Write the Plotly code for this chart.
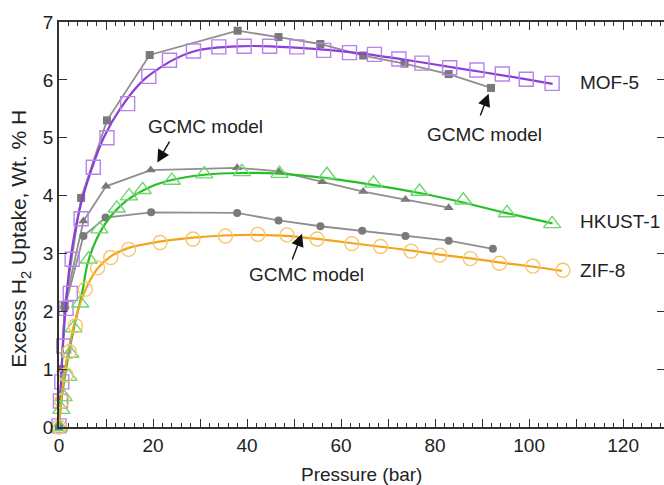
import plotly.graph_objects as go

# ---------------- data ----------------
mof5_x = [0, 0.3, 0.6, 1.0, 1.5, 2.4, 2.8, 4.7, 7.3, 10.2, 14.6, 19.1, 23.5, 28.6, 34.0, 39.4, 44.8,
          50.6, 56.3, 61.8, 67.1, 72.3, 77.2, 83.1, 88.9, 94.3, 99.4, 104.9]
mof5_y = [0.02, 0.45, 0.78, 1.4, 2.05, 2.31, 2.9, 3.6, 4.49, 5.0, 5.59, 6.06, 6.34, 6.5, 6.57, 6.58, 6.58,
          6.57, 6.51, 6.47, 6.44, 6.36, 6.29, 6.21, 6.17, 6.1, 6.01, 5.94]
mof5_fit_x = [0, 0.5, 1, 2, 3, 4.5, 6.7, 9.5, 13, 18, 24.4, 30, 38, 45, 55, 65, 75, 85, 95, 105]
mof5_fit_y = [0, 0.9, 1.6, 2.6, 3.2, 3.8, 4.4, 5.0, 5.5, 6.0, 6.35, 6.52, 6.58, 6.58, 6.53, 6.45, 6.33,
              6.2, 6.07, 5.93]

hkust_x = [0, 0.5, 1.0, 2.0, 2.4, 3.1, 4.5, 6.3, 8.6, 12.3, 14.9, 17.8, 24, 30.9, 38.9, 46.9, 57,
           66.9, 76.7, 86, 95.3, 104.9]
hkust_y = [0, 0.3, 0.52, 0.87, 1.27, 1.71, 2.14, 2.9, 3.42, 3.78, 3.99, 4.1, 4.26, 4.37, 4.41, 4.38,
           4.36, 4.21, 4.07, 3.92, 3.7, 3.51]
hkust_fit_x = [0, 0.5, 1.5, 3, 5, 6, 8, 10.6, 14.5, 19.4, 24, 31, 39, 47, 57, 67, 77, 86, 95, 105]
hkust_fit_y = [0, 0.45, 1.0, 1.65, 2.35, 2.8, 3.25, 3.6, 3.92, 4.15, 4.27, 4.36, 4.39, 4.38, 4.3,
               4.18, 4.04, 3.88, 3.7, 3.52]

zif8_x = [0, 0.6, 1.5, 2.2, 3.5, 5.6, 8.2, 11.0, 14.8, 21.5, 28.5, 35.4, 42.3, 48.5, 54.9, 62.3,
          68.4, 74.9, 81.0, 87.5, 93.7, 100.8, 107.2]
zif8_y = [0, 0.45, 0.9, 1.3, 1.75, 2.38, 2.75, 2.93, 3.07, 3.19, 3.25, 3.3, 3.33, 3.32, 3.25, 3.17,
          3.12, 3.04, 2.97, 2.91, 2.83, 2.78, 2.71]
zif8_fit_x = [0, 0.5, 1.5, 3, 5, 8, 11, 15, 21, 28, 35, 42, 49, 55, 62, 68, 75, 81, 88, 94, 101, 107]
zif8_fit_y = [0, 0.5, 1.1, 1.7, 2.25, 2.72, 2.95, 3.1, 3.2, 3.27, 3.31, 3.32, 3.3, 3.25, 3.18, 3.12,
              3.05, 2.98, 2.91, 2.84, 2.77, 2.7]

gcmc_mof5_x = [0, 0.5, 1.2, 4.7, 10.2, 19.3, 38.0, 46.7, 55.6, 64.7, 73.5, 82.9, 91.9]
gcmc_mof5_y = [0, 1.0, 2.1, 3.96, 5.3, 6.43, 6.85, 6.74, 6.62, 6.42, 6.28, 6.1, 5.86]
gcmc_hkust_x = [0, 0.5, 1.2, 5.2, 10.0, 19.5, 37.9, 46.7, 56.0, 64.7, 73.7, 82.9]
gcmc_hkust_y = [0, 1.0, 2.1, 3.56, 4.16, 4.44, 4.48, 4.42, 4.24, 4.07, 3.93, 3.79]
gcmc_zif8_x = [0, 0.5, 1.2, 5.2, 9.9, 19.6, 37.9, 46.7, 55.6, 64.5, 73.7, 82.9, 92.3]
gcmc_zif8_y = [0, 1.0, 2.05, 3.3, 3.62, 3.71, 3.7, 3.57, 3.47, 3.39, 3.3, 3.22, 3.08]

series_labels = ["MOF-5", "HKUST-1", "ZIF-8"]
label_x = [110.5, 110.5, 110.5]
label_y = [5.95, 3.55, 2.71]

x_ticks = [0, 10, 20, 30, 40, 50, 60, 70, 80, 90, 100, 110, 120]
x_ticktext = ["0", "", "20", "", "40", "", "60", "", "80", "", "100", "", "120"]
y_ticks = [0, 1, 2, 3, 4, 5, 6, 7]

# ---------------- styles ----------------
FONT = "Liberation Sans, Arial, sans-serif"
TXT = "#222222"
PURPLE, PURPLE_M = "#8B3DD8", "#B783EA"
GREEN, GREEN_M = "#25C025", "#6FD66F"
ORANGE, ORANGE_M = "#F4A41C", "#F5C76A"
GRAY_L, GRAY_M = "#8F8F8F", "#7A7A7A"

fig = go.Figure()

# GCMC model curves
for xs, ys, sym, sz in [(gcmc_mof5_x, gcmc_mof5_y, "square", 8),
                        (gcmc_hkust_x, gcmc_hkust_y, "triangle-up", 9),
                        (gcmc_zif8_x, gcmc_zif8_y, "circle", 8)]:
    fig.add_trace(go.Scatter(x=xs, y=ys, mode="lines+markers",
                             line=dict(color=GRAY_L, width=1.8),
                             marker=dict(symbol=sym, size=sz, color=GRAY_M),
                             showlegend=False, cliponaxis=False))

# experimental fit lines
for xs, ys, c in [(mof5_fit_x, mof5_fit_y, PURPLE),
                  (hkust_fit_x, hkust_fit_y, GREEN),
                  (zif8_fit_x, zif8_fit_y, ORANGE)]:
    fig.add_trace(go.Scatter(x=xs, y=ys, mode="lines",
                             line=dict(color=c, width=2.2, shape="spline", smoothing=0.8),
                             showlegend=False))

# experimental markers
for xs, ys, c, sym, sz in [(mof5_x, mof5_y, PURPLE_M, "square-open", 14),
                           (hkust_x, hkust_y, GREEN_M, "triangle-up-open", 15),
                           (zif8_x, zif8_y, ORANGE_M, "circle-open", 14)]:
    fig.add_trace(go.Scatter(x=xs, y=ys, mode="markers",
                             marker=dict(symbol=sym, size=sz, color=c, line=dict(width=1.4, color=c)),
                             showlegend=False, cliponaxis=False))

# invisible trace to activate right axis
fig.add_trace(go.Scatter(x=[0], y=[0], yaxis="y2", mode="markers",
                         marker=dict(opacity=0), showlegend=False, hoverinfo="skip"))

# series labels
for t, lx, ly in zip(series_labels, label_x, label_y):
    fig.add_annotation(x=lx, y=ly, text=t, showarrow=False, xanchor="left", yanchor="middle",
                       font=dict(family=FONT, size=19, color=TXT))

# GCMC model notes with arrows
notes = [
    dict(tx=31.1, ty=5.19, hx=20.9, hy=4.57, sx=23.7, sy=4.96),
    dict(tx=90.5, ty=5.05, hx=91.4, hy=5.76, sx=89.5, sy=5.36),
    dict(tx=52.6, ty=2.63, hx=51.7, hy=3.34, sx=49.5, sy=2.87),
]
for n in notes:
    fig.add_annotation(x=n["tx"], y=n["ty"], text="GCMC model", showarrow=False,
                       font=dict(family=FONT, size=19, color=TXT))
    fig.add_annotation(x=n["hx"], y=n["hy"], ax=n["sx"], ay=n["sy"], axref="x", ayref="y",
                       text="", showarrow=True, arrowhead=2, arrowsize=1.8, arrowwidth=1.4,
                       arrowcolor="#111111")

# axis titles
fig.add_annotation(xref="paper", yref="paper", x=-0.0645, y=0.465, textangle=-90,
                   text="Excess H<sub>2</sub> Uptake, Wt. % H", showarrow=False,
                   xanchor="center", yanchor="middle",
                   font=dict(family=FONT, size=21, color=TXT))
fig.add_annotation(xref="paper", yref="paper", x=0.5, y=-0.1185,
                   text="Pressure (bar)", showarrow=False, xanchor="center", yanchor="middle",
                   font=dict(family=FONT, size=19, color=TXT))

axis_line = "#333333"
fig.update_layout(
    width=664, height=485,
    margin=dict(l=59, r=0, t=22, b=58),
    plot_bgcolor="white", paper_bgcolor="white",
    showlegend=False,
    xaxis=dict(range=[0, 128.7], tickmode="array", tickvals=x_ticks, ticktext=x_ticktext,
               ticks="inside", ticklen=8, tickwidth=1.3, tickcolor=axis_line,
               minor=dict(dtick=2, ticks="inside", ticklen=4, tickwidth=1, tickcolor=axis_line, showgrid=False),
               showline=True, linecolor=axis_line, linewidth=1.5, mirror="ticks",
               showgrid=False, zeroline=False,
               tickfont=dict(family=FONT, size=19, color=TXT)),
    yaxis=dict(range=[0, 7], tickmode="array", tickvals=y_ticks,
               ticks="inside", ticklen=8, tickwidth=1.3, tickcolor=axis_line,
               showline=True, linecolor=axis_line, linewidth=1.5,
               showgrid=False, zeroline=False,
               tickfont=dict(family=FONT, size=19, color=TXT)),
    yaxis2=dict(range=[0, 7], overlaying="y", side="right", tickmode="array", tickvals=y_ticks,
                ticks="inside", ticklen=7, tickwidth=1.3, tickcolor=axis_line,
                showline=False, showticklabels=False, showgrid=False, zeroline=False),
)

fig.write_html("out.html")
